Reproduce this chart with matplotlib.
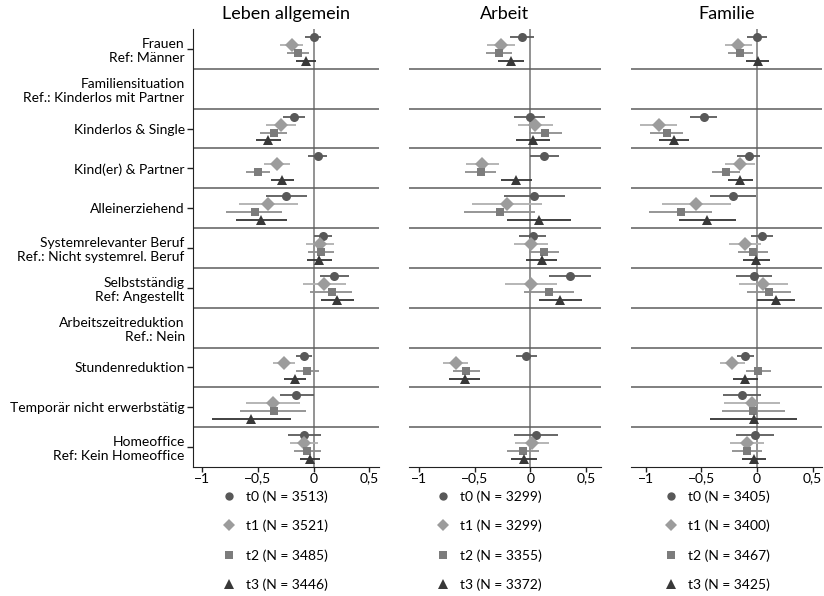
import numpy as np
import matplotlib
matplotlib.use('Agg')
import matplotlib.pyplot as plt
from matplotlib.lines import Line2D

plt.rcParams['font.family'] = ['Lato', 'DejaVu Sans']

nan = np.nan

# Gruppen (von oben nach unten), Header-Zeilen ohne Werte
gruppen = ['Frauen\nRef: Männer',
           'Familiensituation\nRef.: Kinderlos mit Partner',
           'Kinderlos & Single',
           'Kind(er) & Partner',
           'Alleinerziehend',
           'Systemrelevanter Beruf\nRef.: Nicht systemrel. Beruf',
           'Selbstständig\nRef: Angestellt',
           'Arbeitszeitreduktion\nRef.: Nein',
           'Stundenreduktion',
           'Temporär nicht erwerbstätig',
           'Homeoffice\nRef: Kein Homeoffice']
header = [False, True, False, False, False, False, False, True, False, False, False]

titel = ['Leben allgemein', 'Arbeit', 'Familie']
wellen = ['t0', 't1', 't2', 't3']
n_leben = [3513, 3521, 3485, 3446]
n_arbeit = [3299, 3299, 3355, 3372]
n_familie = [3405, 3400, 3467, 3425]

# Koeffizienten je Welle (t0..t3)
leben_est = [[0.0, nan, -0.18, 0.036, -0.245, 0.081, 0.186, nan, -0.087, -0.156, -0.087],
             [-0.195, nan, -0.296, -0.33, -0.41, 0.054, 0.093, nan, -0.267, -0.363, -0.087],
             [-0.14, nan, -0.36, -0.50, -0.53, 0.066, 0.162, nan, -0.057, -0.36, -0.057],
             [-0.07, nan, -0.41, -0.28, -0.47, 0.051, 0.213, nan, -0.171, -0.56, -0.033]]
leben_lo = [[-0.08, nan, -0.275, -0.05, -0.43, 0.006, 0.06, nan, -0.156, -0.305, -0.234],
            [-0.30, nan, -0.425, -0.45, -0.67, -0.072, -0.096, nan, -0.365, -0.605, -0.216],
            [-0.24, nan, -0.485, -0.61, -0.785, -0.054, -0.03, nan, -0.16, -0.66, -0.174],
            [-0.155, nan, -0.52, -0.38, -0.70, -0.06, 0.063, nan, -0.27, -0.91, -0.126]]
leben_hi = [[0.07, nan, -0.075, 0.12, -0.06, 0.165, 0.317, nan, -0.018, 0.0, 0.066],
            [-0.10, nan, -0.155, -0.21, -0.14, 0.18, 0.288, nan, -0.168, -0.12, 0.042],
            [-0.04, nan, -0.24, -0.395, -0.28, 0.186, 0.344, nan, 0.048, -0.066, 0.066],
            [0.024, nan, -0.29, -0.18, -0.24, 0.165, 0.366, nan, -0.066, -0.207, 0.06]]

arbeit_est = [[-0.075, nan, -0.006, 0.127, 0.036, 0.021, 0.356, nan, -0.039, nan, 0.051],
              [-0.267, nan, 0.045, -0.434, -0.213, 0.003, 0.003, nan, -0.674, nan, 0.012],
              [-0.286, nan, 0.133, -0.448, -0.277, 0.121, 0.169, nan, -0.581, nan, -0.069],
              [-0.177, nan, 0.021, -0.129, 0.076, 0.103, 0.271, nan, -0.593, nan, -0.057]]
arbeit_lo = [[-0.183, nan, -0.147, 0.0, -0.238, -0.1, 0.172, nan, -0.132, nan, -0.145],
             [-0.39, nan, -0.108, -0.58, -0.527, -0.147, -0.231, nan, -0.786, nan, -0.141],
             [-0.40, nan, -0.015, -0.587, -0.60, -0.015, -0.057, nan, -0.70, nan, -0.208],
             [-0.295, nan, -0.13, -0.267, -0.213, -0.039, 0.081, nan, -0.73, nan, -0.177]]
arbeit_hi = [[0.036, nan, 0.136, 0.26, 0.31, 0.142, 0.545, nan, 0.057, nan, 0.247],
             [-0.14, nan, 0.202, -0.286, 0.106, 0.157, 0.241, nan, -0.56, nan, 0.166],
             [-0.165, nan, 0.284, -0.307, 0.042, 0.262, 0.392, nan, -0.457, nan, 0.076],
             [-0.06, nan, 0.175, 0.015, 0.365, 0.238, 0.464, nan, -0.457, nan, 0.063]]

familie_est = [[0.0, nan, -0.48, -0.072, -0.213, 0.045, -0.027, nan, -0.105, -0.135, -0.018],
               [-0.168, nan, -0.884, -0.153, -0.545, -0.111, 0.057, nan, -0.222, -0.045, -0.087],
               [-0.15, nan, -0.81, -0.276, -0.683, -0.036, 0.111, nan, 0.012, -0.033, -0.09],
               [0.006, nan, -0.75, -0.15, -0.447, -0.006, 0.168, nan, -0.108, -0.03, -0.03]]
familie_lo = [[-0.087, nan, -0.60, -0.177, -0.426, -0.051, -0.189, nan, -0.183, -0.303, -0.186],
              [-0.29, nan, -1.05, -0.285, -0.857, -0.252, -0.159, nan, -0.336, -0.294, -0.24],
              [-0.264, nan, -0.96, -0.40, -0.967, -0.168, -0.087, nan, -0.096, -0.312, -0.222],
              [-0.099, nan, -0.884, -0.264, -0.704, -0.129, 0.0, nan, -0.219, -0.426, -0.132]]
familie_hi = [[0.09, nan, -0.36, 0.03, -0.006, 0.144, 0.138, nan, -0.024, 0.039, 0.153],
              [-0.045, nan, -0.72, -0.021, -0.234, 0.033, 0.279, nan, -0.111, 0.203, 0.066],
              [-0.039, nan, -0.665, -0.15, -0.40, 0.102, 0.303, nan, 0.126, 0.252, 0.045],
              [0.108, nan, -0.608, -0.036, -0.189, 0.117, 0.339, nan, 0.006, 0.359, 0.078]]

xticks = [-1, -0.5, 0, 0.5]
xticklabels = ['\u22121', '\u22120,5', '0', '0,5']

marker = ['o', 'D', 's', '^']
msize = [6.5, 6.8, 6, 7.5]
mcol = ['#585858', '#9c9c9c', '#7c7c7c', '#383838']
ecol = ['#5a5a5a', '#b0b0b0', '#8e8e8e', '#333333']

# Layout in Pixeln (wie Stata graph combine)
W, H = 824, 596
pos_px = [(193, 379), (409, 601), (631, 822)]
xlims = [(-1.084, 0.587), (-1.093, 0.636), (-1.133, 0.585)]
top_px, bot_px = 29, 467

fig = plt.figure(figsize=(W / 100, H / 100), dpi=100)

panels = [(leben_est, leben_lo, leben_hi, n_leben),
          (arbeit_est, arbeit_lo, arbeit_hi, n_arbeit),
          (familie_est, familie_lo, familie_hi, n_familie)]
leg_x = [221, 435, 663]

ng = len(gruppen)
for p in range(3):
    est, lo, hi, nn = panels[p]
    l, r = pos_px[p]
    ax = fig.add_axes([l / W, (H - bot_px) / H, (r - l) / W, (bot_px - top_px) / H])
    ax.set_xlim(*xlims[p])
    ax.set_ylim(ng * 5, 0)
    ax.axvline(0, color='#8a8a8a', lw=1.3, zorder=1)
    for k in range(1, ng):
        ax.axhline(k * 5, color='#5c5c5c', lw=1.1, zorder=1)
    for w in range(4):
        e = np.array(est[w])
        y = np.arange(ng) * 5 + 1 + w
        xerr = [e - np.array(lo[w]), np.array(hi[w]) - e]
        ax.errorbar(e, y, xerr=xerr, fmt='none', ecolor=ecol[w], elinewidth=1.3, capsize=0, zorder=2)
        ax.plot(e, y, ls='none', marker=marker[w], ms=msize[w], color=mcol[w],
                markeredgewidth=0, zorder=3)
    for s in ['top', 'right']:
        ax.spines[s].set_visible(False)
    ax.spines['bottom'].set_color('#222222')
    ax.set_xticks(xticks)
    ax.set_xticklabels(xticklabels, fontsize=10)
    ax.tick_params(axis='x', length=3.5, width=1, color='#222222', pad=0.5)
    if p == 0:
        ax.spines['left'].set_color('#222222')
        ax.set_yticks(np.arange(ng) * 5 + 2.5)
        ax.set_yticklabels(gruppen, fontsize=10, linespacing=1.2)
        ax.tick_params(axis='y', length=4, width=1, color='#222222', pad=2)
        for i, t in enumerate(ax.yaxis.get_major_ticks()):
            if header[i]:
                t.tick1line.set_visible(False)
            t.label1.set_multialignment('right')
    else:
        ax.spines['left'].set_visible(False)
        ax.set_yticks([])
    ax.set_title(titel[p], fontsize=13, pad=7)

    handles = [Line2D([], [], ls='none', marker=marker[w], ms=msize[w] - 0.5, color=mcol[w],
                      markeredgewidth=0) for w in range(4)]
    labels = ['%s (N = %d)' % (wellen[w], nn[w]) for w in range(4)]
    ax.legend(handles, labels, loc='upper left', bbox_to_anchor=(leg_x[p] / W, 1 - 490 / H),
              bbox_transform=fig.transFigure, frameon=False, fontsize=10, borderpad=0,
              borderaxespad=0, handlelength=1.2, handletextpad=0.6, labelspacing=1.22)

fig.savefig('out.png', dpi=100)
